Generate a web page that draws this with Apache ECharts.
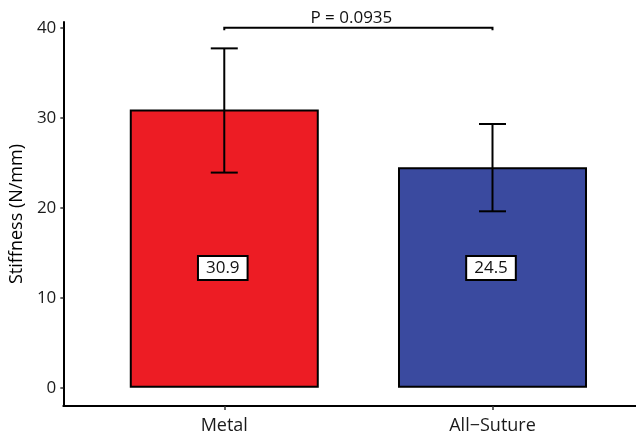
<!DOCTYPE html>
<html>
<head>
<meta charset="utf-8">
<script src="https://cdn.jsdelivr.net/npm/echarts@6/dist/echarts.min.js"></script>
<style>
html,body{margin:0;padding:0;background:#fff;}
#chart{width:636px;height:439px;}
</style>
</head>
<body>
<div id="chart"></div>
<script>
// ---- data ----
var categories = ['Metal', 'All\u2212Suture'];
var positions = [1, 2];
var means = [30.9, 24.5];
var errLower = [23.9, 19.6];
var errUpper = [37.7, 29.3];
var barColors = ['#ED1C24', '#3A4A9F'];
var yTicks = [0, 10, 20, 30, 40];
var pValueText = 'P = 0.0935';
var bracketY = 40.0;
var labelY = 13.3;

var FONT = 'Open Sans';

var chart = echarts.init(document.getElementById('chart'), null, {renderer: 'canvas'});

var barData = positions.map(function (p, i) {
  return {value: [p, means[i]], itemStyle: {color: barColors[i]}};
});
var errData = positions.map(function (p, i) { return [p, errLower[i], errUpper[i]]; });
var labelData = positions.map(function (p, i) { return [p, labelY, means[i]]; });

var option = {
  animation: false,
  grid: {left: 59, right: 0, top: 22, bottom: 33},
  xAxis: {
    type: 'value',
    min: 0.4,
    max: 2.535,
    splitLine: {show: false},
    axisLine: {show: true, onZero: false, lineStyle: {color: '#000', width: 2}},
    axisTick: {show: true, length: 4, customValues: positions, lineStyle: {color: '#333', width: 1.5}},
    axisLabel: {
      customValues: positions,
      margin: 11,
      fontFamily: FONT, fontSize: 18, color: '#1a1a1a',
      formatter: function (v) {
        var idx = positions.indexOf(Math.round(v));
        return idx >= 0 ? categories[idx] : '';
      }
    }
  },
  yAxis: {
    type: 'value',
    min: -2.03,
    max: 40.63,
    splitLine: {show: false},
    name: 'Stiffness (N/mm)',
    nameLocation: 'middle',
    nameGap: 36,
    nameTextStyle: {fontFamily: FONT, fontSize: 18, color: '#000'},
    axisLine: {show: true, onZero: false, lineStyle: {color: '#000', width: 2}},
    axisTick: {show: true, length: 3, customValues: yTicks, lineStyle: {color: '#333', width: 1.5}},
    axisLabel: {customValues: yTicks, margin: 7, fontFamily: FONT, fontSize: 17, color: '#1a1a1a'}
  },
  series: [
    {
      type: 'bar',
      data: barData,
      barWidth: 189,
      itemStyle: {borderColor: '#000', borderWidth: 2},
      z: 2
    },
    {
      type: 'custom',
      data: errData,
      z: 3,
      renderItem: function (params, api) {
        var x = api.value(0), lo = api.value(1), hi = api.value(2);
        var pHi = api.coord([x, hi]), pLo = api.coord([x, lo]);
        var half = 13.5;
        var st = {stroke: '#000', lineWidth: 2};
        return {
          type: 'group',
          children: [
            {type: 'line', shape: {x1: pHi[0], y1: pHi[1], x2: pLo[0], y2: pLo[1]}, style: st},
            {type: 'line', shape: {x1: pHi[0] - half, y1: pHi[1], x2: pHi[0] + half, y2: pHi[1]}, style: st},
            {type: 'line', shape: {x1: pLo[0] - half, y1: pLo[1], x2: pLo[0] + half, y2: pLo[1]}, style: st}
          ]
        };
      }
    },
    {
      type: 'custom',
      data: labelData,
      z: 4,
      renderItem: function (params, api) {
        var p = api.coord([api.value(0), api.value(1)]);
        return {
          type: 'text',
          x: p[0] - 1.5,
          y: p[1],
          style: {
            text: api.value(2).toFixed(1),
            fontFamily: FONT, fontSize: 17, fill: '#111',
            align: 'center', verticalAlign: 'middle',
            backgroundColor: '#fff', borderColor: '#000', borderWidth: 2,
            padding: [3, 7, 2, 7]
          }
        };
      }
    },
    {
      type: 'custom',
      data: [[positions[0], positions[1], bracketY]],
      z: 5,
      clip: false,
      renderItem: function (params, api) {
        var a = api.coord([api.value(0), api.value(2)]);
        var b = api.coord([api.value(1), api.value(2)]);
        var drop = 2.5;
        return {
          type: 'group',
          children: [
            {type: 'polyline', shape: {points: [[a[0], a[1] + drop], [a[0], a[1]], [b[0], b[1]], [b[0], b[1] + drop]]},
             style: {stroke: '#000', lineWidth: 2, fill: null}},
            {type: 'text', x: (a[0] + b[0]) / 2 - 7, y: a[1] - 10,
             style: {text: pValueText, fontFamily: FONT, fontSize: 17, fill: '#111', align: 'center', verticalAlign: 'middle'}}
          ]
        };
      }
    }
  ]
};
chart.setOption(option);
</script>
</body>
</html>
